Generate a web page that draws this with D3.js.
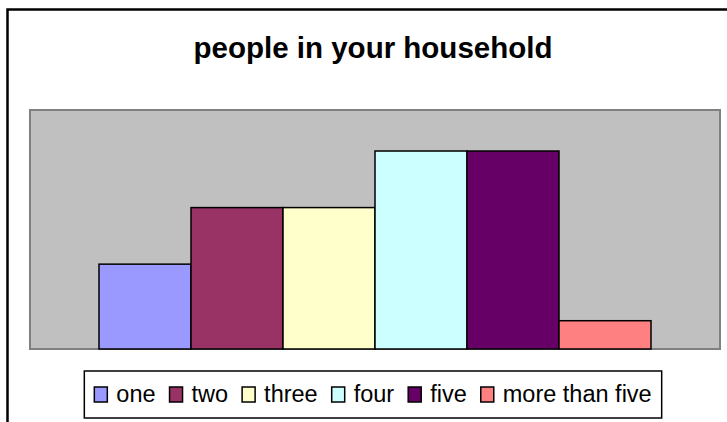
<!DOCTYPE html>
<meta charset="utf-8">
<style>
body { margin: 0; background: #fff; }
svg { display: block; font-family: "Liberation Sans", Arial, Helvetica, sans-serif; }
</style>
<svg id="chart" width="727" height="422"></svg>
<script src="https://d3js.org/d3.v7.min.js"></script>
<script>
// data
var categories = ["one", "two", "three", "four", "five", "more than five"];
var values = [3, 5, 5, 7, 7, 1];
var colors = ["#9999FF", "#993366", "#FFFFCC", "#CCFFFF", "#660066", "#FF8080"];
var title = "people in your household";

var W = 727, H = 422;
var plot = { left: 30, top: 110, right: 720, bottom: 349 };

var svg = d3.select("#chart");

// outer chart border (runs off the right and bottom edge)
svg.append("rect")
  .attr("x", 7.5).attr("y", 9.5)
  .attr("width", W + 20).attr("height", H + 20)
  .attr("fill", "#fff").attr("stroke", "#000").attr("stroke-width", 2.5);

svg.append("text")
  .attr("x", 373).attr("y", 58)
  .attr("text-anchor", "middle")
  .attr("font-size", 29.5)
  .attr("font-weight", "bold")
  .text(title);

// plot area
svg.append("rect")
  .attr("x", plot.left).attr("y", plot.top)
  .attr("width", plot.right - plot.left).attr("height", plot.bottom - plot.top)
  .attr("fill", "#C0C0C0").attr("stroke", "#808080").attr("stroke-width", 2);

// one category group, six series side by side
var x0 = d3.scaleBand().domain(["all"]).range([plot.left, plot.right])
  .paddingInner(0).paddingOuter(0.125);
var x1 = d3.scaleBand().domain(categories).range([0, x0.bandwidth()]).padding(0);
var y = d3.scaleLinear().domain([0, 8.45]).range([plot.bottom, plot.top]);

svg.append("g").selectAll("rect")
  .data(categories)
  .join("rect")
  .attr("x", function (d) { return x0("all") + x1(d); })
  .attr("y", function (d, i) { return y(values[i]); })
  .attr("width", x1.bandwidth())
  .attr("height", function (d, i) { return y(0) - y(values[i]); })
  .attr("fill", function (d, i) { return colors[i]; })
  .attr("stroke", "#000").attr("stroke-width", 1.5);

// legend
var lg = svg.append("g");
var box = lg.append("rect")
  .attr("fill", "#fff").attr("stroke", "#000").attr("stroke-width", 1.5);
var sw = 13, sh = 15, gapA = 9, gapB = 14;
var xCur = 0;
var items = lg.selectAll("g.item").data(categories).join("g").attr("class", "item");
items.each(function (d, i) {
  var g = d3.select(this);
  g.append("rect")
    .attr("x", xCur).attr("y", -sh)
    .attr("width", sw).attr("height", sh)
    .attr("fill", colors[i]).attr("stroke", "#000").attr("stroke-width", 1.5);
  var t = g.append("text")
    .attr("x", xCur + sw + gapA).attr("y", 0)
    .attr("font-size", 23.5)
    .text(d);
  xCur += sw + gapA + t.node().getComputedTextLength() + gapB;
});
var total = xCur - gapB;
var cx = (plot.left + plot.right) / 2 - 2;
var padX = 10;
box.attr("x", -padX).attr("y", -31)
  .attr("width", total + 2 * padX).attr("height", 47);
lg.attr("transform", "translate(" + (cx - total / 2) + ",402)");
</script>
